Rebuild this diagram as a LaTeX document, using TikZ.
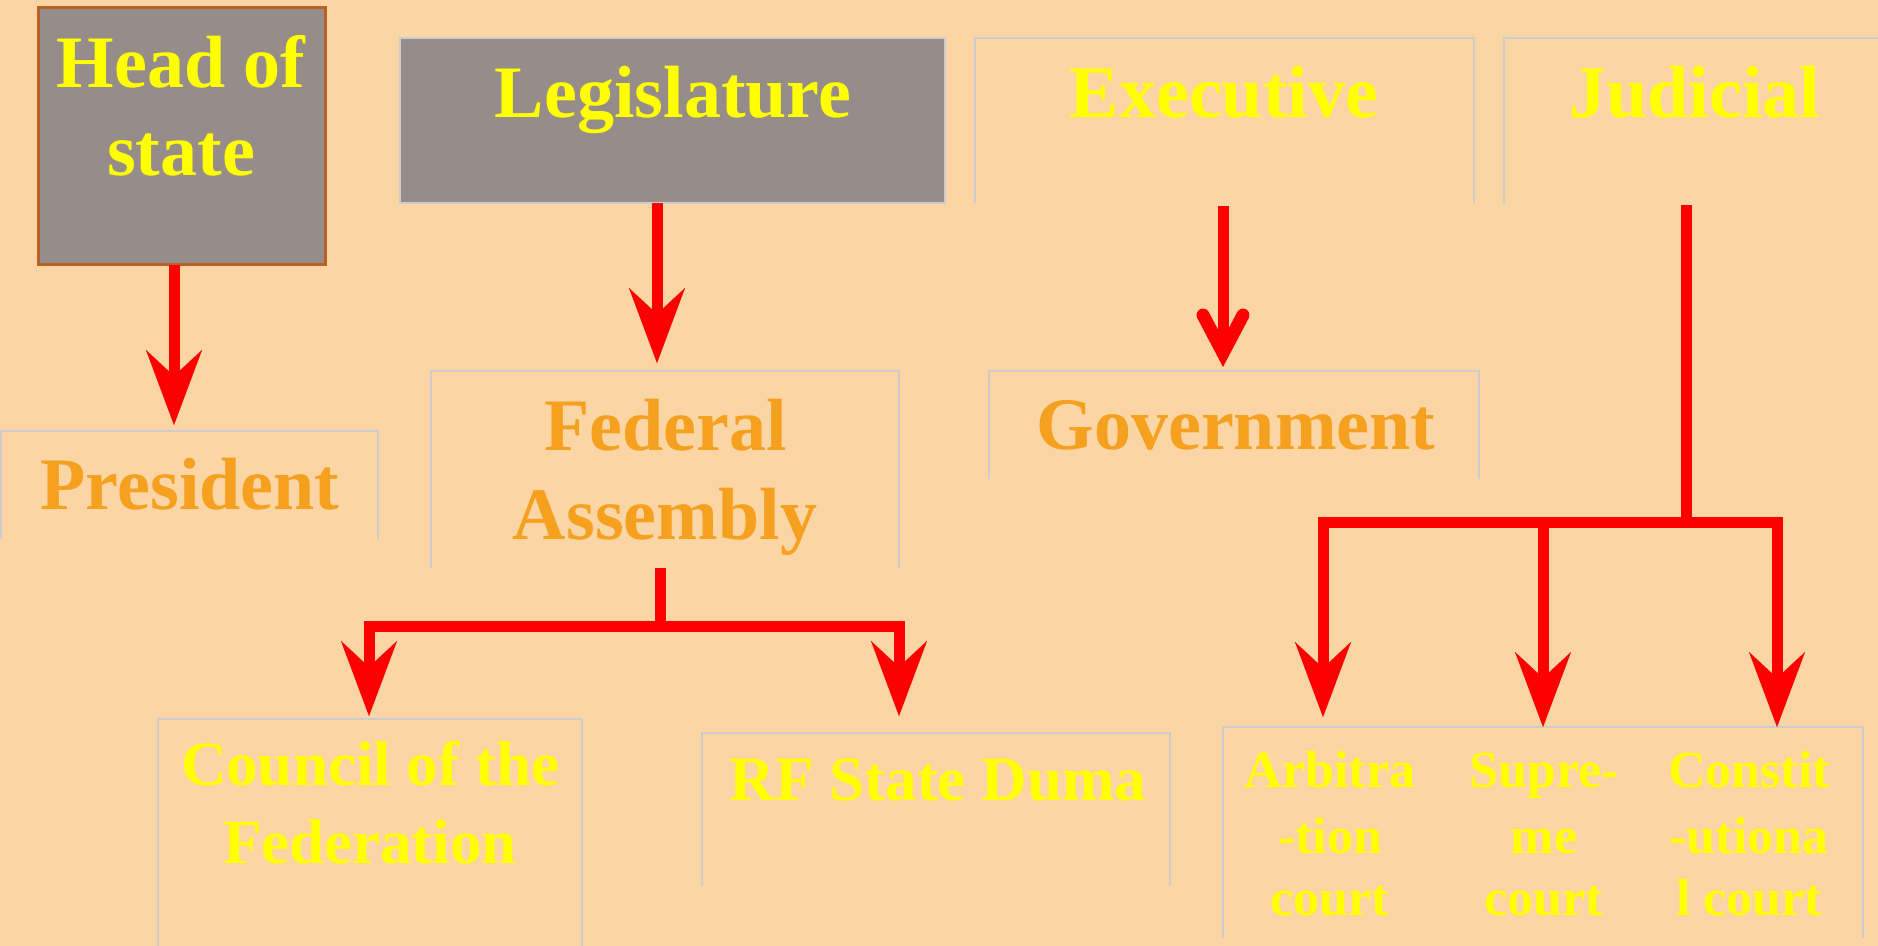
\documentclass[tikz,border=0pt]{standalone}
\usepackage{fontspec}
\setmainfont{Liberation Serif}
\usetikzlibrary{arrows.meta,fit,calc}
\definecolor{bg}{RGB}{251,214,164}
\definecolor{boxfill}{RGB}{150,140,138}
\definecolor{brownb}{RGB}{184,96,42}
\definecolor{edgegray}{RGB}{205,205,205}
\definecolor{ylw}{RGB}{255,255,0}
\definecolor{org}{RGB}{245,160,30}
\definecolor{arrred}{RGB}{255,0,0}
\tikzset{
  frame/.style={inner sep=0pt, outer sep=0pt},
  boxline/.style={draw=edgegray, line width=1pt},
  redline/.style={draw=arrred, line width=5.5pt},
  arr/.style={redline, -{Stealth[length=37.5pt,width=28pt,inset=13pt,line width=0.01pt]}},
  arrround/.style={redline, -{Straight Barb[length=19pt,width=20pt,line width=6.5pt,line cap=round,line join=miter]}},
  tbig/.style={font=\fontsize{37}{44}\selectfont\bfseries, inner sep=0pt, anchor=base},
  tmid/.style={font=\fontsize{31.5}{38}\selectfont\bfseries, inner sep=0pt, anchor=base},
  tsmall/.style={font=\fontsize{26}{31}\selectfont\bfseries, inner sep=0pt, anchor=base},
}
\newcommand{\mkbox}[5]{%
  \coordinate (#1-a) at (#2,#3);
  \coordinate (#1-b) at (#4,#5);
  \node[frame, fit=(#1-a)(#1-b)] (#1) {};
}
\newcommand{\openbox}[1]{%
  \draw[boxline] (#1.south west) -- (#1.north west) -- (#1.north east) -- (#1.south east);
}
\begin{document}
\begin{tikzpicture}[x=0.5pt,y=-0.5pt]
\useasboundingbox (0,0) rectangle (1878,946);
\clip (0,0) rectangle (1878,946);
\fill[bg] (0,0) rectangle (1878,946);

% boxes
\mkbox{hs}{38}{8}{325}{265}
\mkbox{leg}{400}{38}{945}{203}
\mkbox{exe}{975}{38}{1474}{203}
\mkbox{jud}{1504}{38}{1900}{203}
\mkbox{pres}{1}{431}{378}{539}
\mkbox{fa}{431}{371}{899}{568}
\mkbox{gov}{989}{371}{1479}{479}
\mkbox{cou}{158}{719}{582}{960}
\mkbox{duma}{702}{733}{1170}{886}
\mkbox{crt}{1223}{727}{1863}{938}

\draw[fill=boxfill, draw=brownb, line width=1.5pt] (hs.south west) rectangle (hs.north east);
\draw[fill=boxfill, boxline] (leg.south west) rectangle (leg.north east);
\openbox{exe}
\openbox{jud}
\openbox{pres}
\openbox{fa}
\openbox{gov}
\openbox{cou}
\openbox{duma}
\openbox{crt}

% texts
\node[tbig, text=ylw] (hs-1) at (181,88) {Head of};
\node[tbig, text=ylw] (hs-2) at (181,176) {state};
\node[tbig, text=ylw] (leg-t) at (673,118) {Legislature};
\node[tbig, text=ylw] (exe-t) at (1224,118) {Executive};
\node[tbig, text=ylw] (jud-t) at (1695,118) {Judicial};
\node[tbig, text=org] (pres-t) at (190,509) {President};
\node[tbig, text=org] (fa-1) at (666,450) {Federal};
\node[tbig, text=org] (fa-2) at (665,539) {Assembly};
\node[tbig, text=org] (gov-t) at (1236,449) {Government};
\node[tmid, text=ylw] (cou-1) at (370,785) {Council of the};
\node[tmid, text=ylw] (cou-2) at (370,863) {Federation};
\node[tmid, text=ylw] (duma-t) at (938,800) {RF State Duma};
\node[tsmall, text=ylw] (arb-1) at (1330,787) {Arbitra};
\node[tsmall, text=ylw] (arb-2) at (1330,853) {-tion};
\node[tsmall, text=ylw] (arb-3) at (1330,915) {court};
\node[tsmall, text=ylw] (sup-1) at (1544,787) {Supre-};
\node[tsmall, text=ylw] (sup-2) at (1544,853) {me};
\node[tsmall, text=ylw] (sup-3) at (1544,915) {court};
\node[tsmall, text=ylw] (con-1) at (1749,787) {Constit};
\node[tsmall, text=ylw] (con-2) at (1749,853) {-utiona};
\node[tsmall, text=ylw] (con-3) at (1749,915) {l court};

% connector end points
\coordinate (t-pres) at (174,425);
\coordinate (t-fa) at (657,363);
\coordinate (t-gov) at (1223,367);
\coordinate (j-fa) at (660,626);
\coordinate (t-cou) at (369,716);
\coordinate (t-duma) at (899,716);
\coordinate (j-jud) at (1686,522);
\coordinate (t-arb) at (1323,717);
\coordinate (b-sup) at (1543,522);
\coordinate (t-sup) at (1543,727);
\coordinate (t-con) at (1777,727);

% connectors
\draw[arr] (hs.south -| t-pres) -- (t-pres);
\draw[arr] (leg.south -| t-fa) -- (t-fa);
\draw[arrround] ($(exe.south -| t-gov)+(0,3)$) -- (t-gov);
\draw[arr] (fa.south -| j-fa) -- (j-fa) -| (t-cou);
\draw[arr] (j-fa) -| (t-duma);
\draw[arr] ($(jud.south -| j-jud)+(0,2)$) -- (j-jud) -| (t-arb);
\draw[arr] (j-jud) -| (t-con);
\draw[arr] (b-sup) -- (t-sup);
\end{tikzpicture}
\end{document}
